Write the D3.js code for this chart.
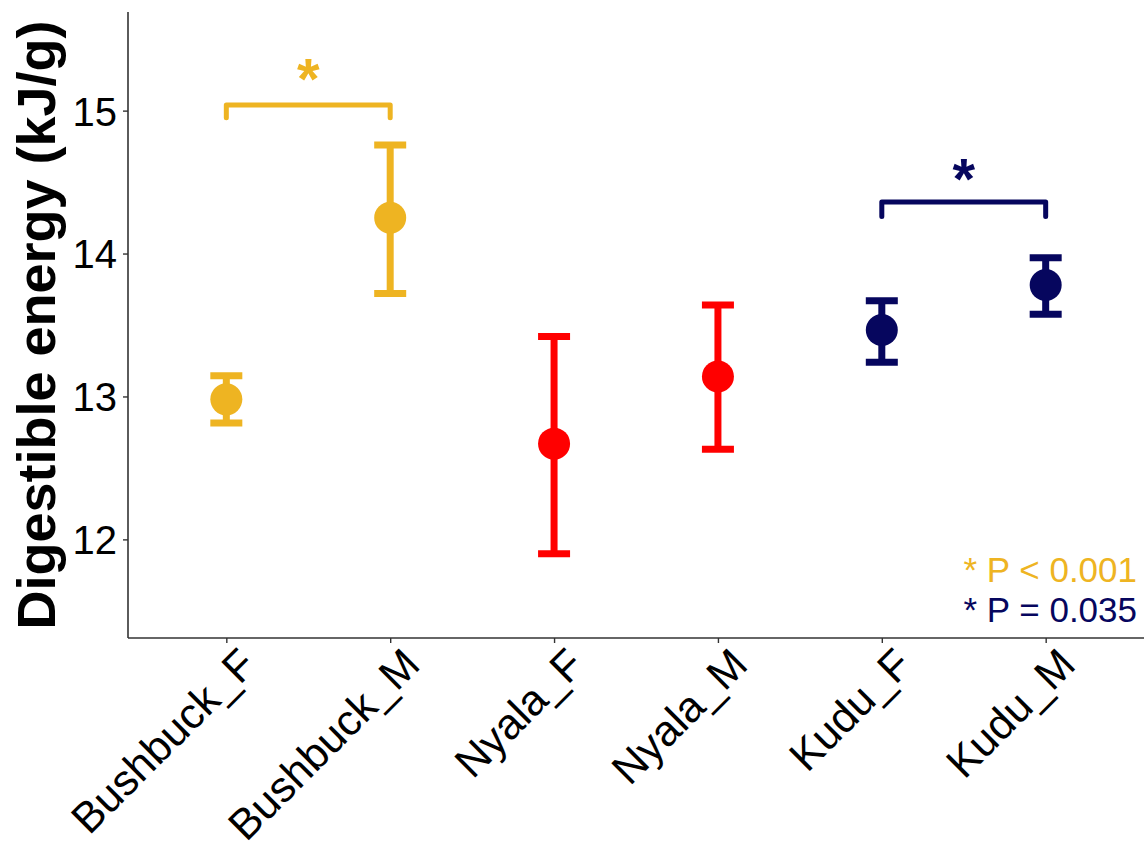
<!DOCTYPE html>
<html>
<head>
<meta charset="utf-8">
<script src="https://cdn.jsdelivr.net/npm/d3@7"></script>
<style>
  body { margin: 0; background: #fff; }
  text { font-family: "Liberation Sans", Arial, sans-serif; }
</style>
</head>
<body>
<div id="chart"></div>
<script>
// data
const groups = ["Bushbuck_F", "Bushbuck_M", "Nyala_F", "Nyala_M", "Kudu_F", "Kudu_M"];
const means  = [12.98, 14.25, 12.67, 13.14, 13.465, 13.78];
const lower  = [12.815, 13.72, 11.90, 12.63, 13.24, 13.575];
const upper  = [13.145, 14.76, 13.42, 13.64, 13.67, 13.97];
const colors = ["#EEB422", "#EEB422", "#FF0000", "#FF0000", "#06065E", "#06065E"];
const yTicks = [12, 13, 14, 15];

// significance brackets
const bracketFrom  = ["Bushbuck_F", "Kudu_F"];
const bracketTo    = ["Bushbuck_M", "Kudu_M"];
const bracketTop   = [15.04, 14.36];
const bracketEnd   = [14.95, 14.26];
const bracketStar  = [15.32, 14.62];
const bracketColor = ["#EEB422", "#06065E"];

const legendText  = ["* P < 0.001", "* P = 0.035"];
const legendColor = ["#EEB422", "#06065E"];

const W = 1144, H = 849;
const margin = { top: 12, right: 0, bottom: 211, left: 128 };
const width = W - margin.left - margin.right;
const height = H - margin.top - margin.bottom;

const svg = d3.select("#chart").append("svg")
    .attr("width", W)
    .attr("height", H);

const g = svg.append("g")
    .attr("transform", "translate(" + margin.left + "," + margin.top + ")");

const x = d3.scalePoint()
    .domain(groups)
    .range([0, width])
    .padding(0.6);

const y = d3.scaleLinear()
    .domain([11.31, 15.69])
    .range([height, 0]);

// axes
const yAxis = g.append("g")
    .call(d3.axisLeft(y).tickValues(yTicks).tickSize(5).tickPadding(6).tickFormat(d3.format("d")));
yAxis.select(".domain").attr("stroke", "#333").attr("stroke-width", 1.6).attr("d", "M0,0V" + height);
yAxis.selectAll(".tick line").attr("stroke", "#333").attr("stroke-width", 1.4);
yAxis.selectAll(".tick text")
    .attr("fill", "#000")
    .style("font-size", "40px")
    .attr("dy", "0.36em");

const xAxis = g.append("g")
    .attr("transform", "translate(0," + height + ")")
    .call(d3.axisBottom(x).tickSize(5).tickFormat(""));
xAxis.select(".domain").attr("stroke", "#333").attr("stroke-width", 1.6).attr("d", "M0,0H" + width);
xAxis.selectAll(".tick line").attr("stroke", "#333").attr("stroke-width", 1.4);

// rotated category labels
g.append("g").selectAll("text")
    .data(groups)
    .enter().append("text")
    .attr("transform", d => "translate(" + (x(d) + 10) + "," + (height + 7) + ") rotate(-45)")
    .attr("text-anchor", "end")
    .attr("dy", "0.72em")
    .style("font-size", "43px")
    .attr("fill", "#000")
    .text(d => d);

// error bars
const capHalf = 16;
const bars = g.append("g").selectAll("g")
    .data(groups)
    .enter().append("g")
    .attr("stroke", (d, i) => colors[i])
    .attr("stroke-width", 7);

bars.append("line")
    .attr("x1", d => x(d)).attr("x2", d => x(d))
    .attr("y1", (d, i) => y(lower[i])).attr("y2", (d, i) => y(upper[i]));
bars.append("line")
    .attr("x1", d => x(d) - capHalf).attr("x2", d => x(d) + capHalf)
    .attr("y1", (d, i) => y(upper[i])).attr("y2", (d, i) => y(upper[i]));
bars.append("line")
    .attr("x1", d => x(d) - capHalf).attr("x2", d => x(d) + capHalf)
    .attr("y1", (d, i) => y(lower[i])).attr("y2", (d, i) => y(lower[i]));

// mean points
g.append("g").selectAll("circle")
    .data(groups)
    .enter().append("circle")
    .attr("cx", d => x(d))
    .attr("cy", (d, i) => y(means[i]))
    .attr("r", 16)
    .attr("fill", (d, i) => colors[i]);

// brackets + stars
bracketFrom.forEach((from, i) => {
    const x1 = x(from), x2 = x(bracketTo[i]);
    g.append("path")
        .attr("d", "M" + x1 + "," + y(bracketEnd[i]) + "V" + y(bracketTop[i]) +
                   "H" + x2 + "V" + y(bracketEnd[i]))
        .attr("fill", "none")
        .attr("stroke", bracketColor[i])
        .attr("stroke-width", 5)
        .attr("stroke-linecap", "round")
        .attr("stroke-linejoin", "round");
    g.append("text")
        .attr("x", (x1 + x2) / 2)
        .attr("y", y(bracketStar[i]) + 34)
        .attr("text-anchor", "middle")
        .style("font-size", "58px")
        .style("font-weight", "bold")
        .attr("fill", bracketColor[i])
        .text("*");
});

// p-value legend, bottom right
legendText.forEach((t, i) => {
    g.append("text")
        .attr("x", width - 7)
        .attr("y", height - 56 + i * 40)
        .attr("text-anchor", "end")
        .style("font-size", "35px")
        .attr("fill", legendColor[i])
        .text(t);
});

// y axis title
svg.append("text")
    .attr("transform", "translate(55," + (margin.top + height / 2) + ") rotate(-90)")
    .attr("text-anchor", "middle")
    .style("font-size", "54px")
    .style("font-weight", "bold")
    .attr("fill", "#000")
    .text("Digestible energy (kJ/g)");
</script>
</body>
</html>
